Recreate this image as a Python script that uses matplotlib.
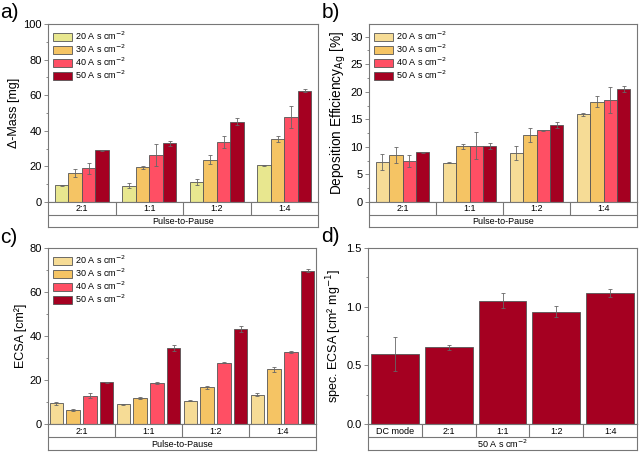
import numpy as np
import matplotlib
matplotlib.use("Agg")
import matplotlib.pyplot as plt
from matplotlib.ticker import MultipleLocator

plt.rcParams['font.family'] = ['Liberation Sans', 'DejaVu Sans']

# data
ratios = ['2:1', '1:1', '1:2', '1:4']
charges = ['20 A s cm$^{-2}$', '30 A s cm$^{-2}$', '40 A s cm$^{-2}$', '50 A s cm$^{-2}$']

# a) mass gain [mg], rows = charge, cols = ratio
mass = [[9.4, 9.2, 11.4, 20.6],
        [16.3, 19.5, 23.7, 35.3],
        [19.0, 26.4, 33.8, 47.8],
        [29.0, 32.9, 45.2, 62.6]]
mass_err = [[0.3, 1.2, 1.6, 0.4],
            [2.5, 1.0, 2.5, 1.8],
            [3.0, 6.0, 3.2, 6.0],
            [0.4, 1.5, 2.0, 1.0]]

# b) deposition efficiency [%]
eff = [[7.3, 7.15, 8.9, 15.9],
       [8.5, 10.1, 12.2, 18.2],
       [7.45, 10.25, 13.0, 18.5],
       [9.0, 10.2, 13.95, 20.55]]
eff_err = [[1.5, 0.1, 1.3, 0.3],
           [1.4, 0.5, 1.3, 1.0],
           [1.1, 2.4, 0.1, 2.4],
           [0.1, 0.5, 0.6, 0.5]]

# c) ECSA [cm2]
ecsa = [[9.4, 8.9, 10.6, 13.4],
        [6.3, 11.8, 16.6, 24.8],
        [12.8, 18.7, 27.8, 32.8],
        [19.0, 34.6, 43.3, 69.7]]
ecsa_err = [[0.8, 0.2, 0.2, 0.5],
            [0.6, 0.5, 0.6, 1.0],
            [1.2, 0.3, 0.2, 0.3],
            [0.3, 1.2, 1.3, 0.8]]

# d) specific ECSA at 50 A s cm-2
modes = ['DC mode', '2:1', '1:1', '1:2', '1:4']
spec = [0.597, 0.654, 1.05, 0.957, 1.118]
spec_err = [0.148, 0.02, 0.065, 0.045, 0.035]

colors_a = ['#e8e78f', '#f5c464', '#ff4f64', '#a50021']
colors_b = ['#f6dc96', '#f5c464', '#ff4f64', '#a50021']
edge = '#555555'
spine = '#777777'

fig = plt.figure(figsize=(6.4, 4.54), dpi=100)
W, H = 640, 454


def px_axes(x0, y_top, x1, y_bot):
    return fig.add_axes([x0 / W, 1 - y_bot / H, (x1 - x0) / W, (y_bot - y_top) / H])


def style(ax, ymax, major, minor, ylabel, lsize=9):
    ax.set_ylim(0, ymax)
    ax.yaxis.set_major_locator(MultipleLocator(major))
    ax.yaxis.set_minor_locator(MultipleLocator(minor))
    ax.set_xticks([])
    ax.tick_params(axis='y', which='major', labelsize=8, length=3, width=0.6, color=spine, pad=1.5)
    ax.tick_params(axis='y', which='minor', length=1.8, width=0.6, color=spine)
    for s in ax.spines.values():
        s.set_color(spine)
        s.set_linewidth(0.8)
    ax.set_ylabel(ylabel, fontsize=lsize, labelpad=2)


def rows(ax, labels, bottom_text, row_h=12.5):
    pos = ax.get_position()
    h = row_h / H
    sub = fig.add_axes([pos.x0, pos.y0 - 2 * h, pos.width, 2 * h])
    sub.set_xlim(ax.get_xlim())
    sub.set_ylim(0, 2)
    sub.set_xticks([])
    sub.set_yticks([])
    for s in sub.spines.values():
        s.set_color(spine)
        s.set_linewidth(0.8)
    sub.axhline(1, color=spine, lw=0.8)
    for i in range(1, len(labels)):
        sub.vlines(i - 0.5, 1, 2, color=spine, lw=0.8)
    for i, lab in enumerate(labels):
        sub.text(i, 1.45, lab, ha='center', va='center', fontsize=6.5)
    sub.text(np.mean(sub.get_xlim()), 0.45, bottom_text, ha='center', va='center', fontsize=6.5)


def grouped(ax, vals, errs, colors, offsets, width):
    x = np.arange(len(ratios))
    for k in range(4):
        ax.bar(x + offsets[k], vals[k], width, yerr=errs[k], color=colors[k],
               edgecolor=edge, linewidth=0.6, label=charges[k],
               error_kw=dict(ecolor='#666666', elinewidth=0.6, capsize=1.5, capthick=0.6))
    ax.set_xlim(-0.5, len(ratios) - 0.5)
    ax.legend(loc='upper left', frameon=False, fontsize=6.5, handlelength=2.1, handleheight=1.0,
              labelspacing=0.08, handletextpad=0.3, borderaxespad=0.3, borderpad=0.3)


adj = [-0.3, -0.1, 0.1, 0.3]
gap = [-0.375, -0.125, 0.125, 0.375]

# a)
ax_a = px_axes(48, 24, 318, 202)
grouped(ax_a, mass, mass_err, colors_a, adj, 0.2)
style(ax_a, 100, 20, 10, '\u0394-Mass [mg]')
rows(ax_a, ratios, 'Pulse-to-Pause')

# b)
ax_b = px_axes(369, 24, 637, 202)
grouped(ax_b, eff, eff_err, colors_b, adj, 0.2)
style(ax_b, 32.3, 5, 2.5, 'Deposition Efficiency$_{\\mathrm{Ag}}$ [%]', lsize=9.8)
rows(ax_b, ratios, 'Pulse-to-Pause')

# c)
ax_c = px_axes(48, 248, 316, 424)
grouped(ax_c, ecsa, ecsa_err, colors_b, gap, 0.2)
style(ax_c, 80, 20, 10, 'ECSA [cm\u00b2]')
rows(ax_c, ratios, 'Pulse-to-Pause', row_h=13)

# d)
ax_d = px_axes(368, 248, 637, 424)
xd = np.arange(len(modes))
ax_d.bar(xd, spec, 0.89, yerr=spec_err, color='#a50021', edgecolor=edge, linewidth=0.6,
         error_kw=dict(ecolor='#666666', elinewidth=0.6, capsize=1.5, capthick=0.6))
ax_d.set_xlim(-0.5, len(modes) - 0.5)
style(ax_d, 1.5, 0.5, 0.25, 'spec. ECSA [cm\u00b2 mg$^{-1}$]')
rows(ax_d, modes, '50 A s cm$^{-2}$', row_h=13)

for letter, x, y in [('a)', 0, 12), ('b)', 322, 12), ('c)', 0, 238), ('d)', 321, 236)]:
    fig.text(x / W, 1 - y / H, letter, fontsize=15, va='center', ha='left')

fig.savefig('out.png', dpi=100)
